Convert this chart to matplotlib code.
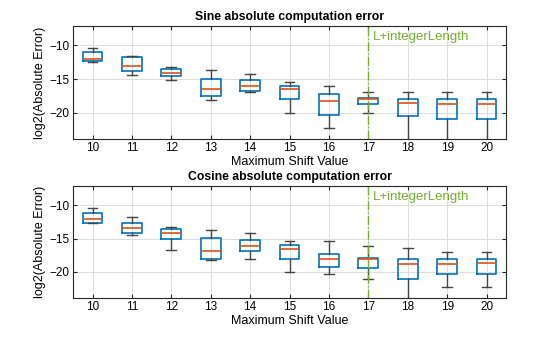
import numpy as np
import matplotlib
matplotlib.use("Agg")
import matplotlib.pyplot as plt

plt.rcParams['font.family'] = ['Liberation Sans', 'DejaVu Sans']

shifts = [10, 11, 12, 13, 14, 15, 16, 17, 18, 19, 20]

# sine: whisker low, q1, median, q3, whisker high
sin_wlo = [-12.5, -14.36, -15.15, -18.17, -16.93, -20.0, -22.3, -20.0, -25.0, -25.0, -25.0]
sin_q1 = [-12.37, -13.76, -14.55, -17.52, -16.78, -17.92, -20.33, -18.77, -20.45, -20.99, -20.99]
sin_med = [-11.98, -13.1, -14.16, -16.54, -16.04, -16.54, -18.33, -17.93, -18.62, -18.77, -18.72]
sin_q3 = [-10.98, -11.78, -13.56, -15.05, -15.2, -16.04, -17.25, -17.84, -17.99, -17.99, -17.99]
sin_whi = [-10.39, -11.63, -13.26, -13.71, -14.25, -15.39, -15.97, -16.95, -16.95, -16.95, -16.95]

# cosine
cos_wlo = [-12.72, -14.46, -16.69, -18.17, -18.02, -20.0, -20.3, -21.05, -25.0, -22.29, -22.29]
cos_q1 = [-12.58, -14.11, -15.05, -18.02, -16.79, -18.07, -19.26, -19.41, -21.05, -20.3, -20.3]
cos_med = [-12.03, -13.37, -14.2, -16.79, -16.04, -16.49, -18.02, -18.07, -18.87, -18.82, -18.67]
cos_q3 = [-11.09, -12.72, -13.62, -14.9, -15.2, -15.9, -17.33, -17.87, -18.07, -18.07, -18.07]
cos_whi = [-10.4, -11.73, -13.27, -13.77, -14.2, -15.4, -15.4, -16.04, -16.44, -16.98, -16.98]

marker_x = 17
marker_label = "L+integerLength"

blue = '#0072BD'
orange = '#D95319'
green = '#77AC30'


def draw(ax, wlo, q1, med, q3, whi, title):
    stats = []
    for i in range(len(shifts)):
        stats.append(dict(whislo=wlo[i], q1=q1[i], med=med[i], q3=q3[i], whishi=whi[i], fliers=[]))
    ax.bxp(stats, positions=shifts, widths=0.5, showfliers=False,
           boxprops=dict(color=blue, linewidth=1.2),
           medianprops=dict(color=orange, linewidth=1.2),
           whiskerprops=dict(color='#444444', linewidth=1.0),
           capprops=dict(color='#444444', linewidth=1.0),
           capwidths=0.25)
    ax.axvline(marker_x, color=green, linestyle='-.', linewidth=1.0)
    ax.text(marker_x + 0.12, -8.7, marker_label, color=green, fontsize=9.5, va='center', ha='left')
    ax.set_xlim(9.5, 20.5)
    ax.set_ylim(-23.9, -7.1)
    ax.set_xticks(shifts)
    ax.set_xticklabels([str(s) for s in shifts])
    ax.set_yticks([-20, -15, -10])
    ax.grid(True, color='#dcdcdc', linewidth=0.7)
    ax.set_axisbelow(True)
    ax.tick_params(direction='in', top=True, right=True, labelsize=8.5, length=3, pad=2.5, color='#262626')
    for s in ax.spines.values():
        s.set_color('#262626')
        s.set_linewidth(0.8)
    ax.set_title(title, fontsize=8.8, fontweight='bold', pad=4)
    ax.set_xlabel("Maximum Shift Value", fontsize=9, labelpad=1)
    ax.set_ylabel("log2(Absolute Error)", fontsize=9, labelpad=2)


fig = plt.figure(figsize=(5.6, 3.37), dpi=100)
ax1 = fig.add_axes([0.130, 0.588, 0.774, 0.335])
ax2 = fig.add_axes([0.130, 0.116, 0.774, 0.332])
draw(ax1, sin_wlo, sin_q1, sin_med, sin_q3, sin_whi, "Sine absolute computation error")
draw(ax2, cos_wlo, cos_q1, cos_med, cos_q3, cos_whi, "Cosine absolute computation error")

fig.savefig("out.png", dpi=100)
